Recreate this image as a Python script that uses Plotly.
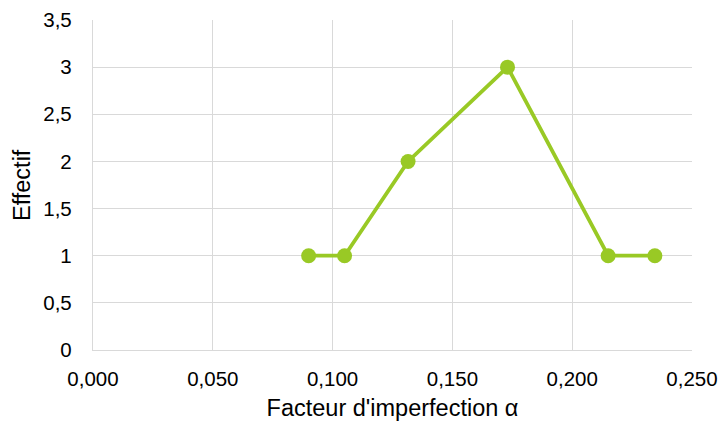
import plotly.graph_objects as go

# Facteur d'imperfection α et effectif correspondant
alpha = [0.090, 0.105, 0.1315, 0.173, 0.215, 0.2345]
effectif = [1, 1, 2, 3, 1, 1]

x_ticks = [0.0, 0.05, 0.10, 0.15, 0.20, 0.25]
y_ticks = [0, 0.5, 1, 1.5, 2, 2.5, 3, 3.5]

green = "#99C925"
grid = "#D9D9D9"
font = "Liberation Sans, Arial, sans-serif"

fig = go.Figure(
    go.Scatter(
        x=alpha,
        y=effectif,
        mode="lines+markers",
        line=dict(color=green, width=3.8),
        marker=dict(color=green, size=15),
        showlegend=False,
    )
)

fig.update_layout(
    width=721,
    height=423,
    margin=dict(l=93, r=29, t=20, b=73),
    paper_bgcolor="white",
    plot_bgcolor="white",
    separators=", ",
    font=dict(family=font, size=20.5, color="#000000"),
    xaxis=dict(
        range=[0, 0.25],
        tickvals=x_ticks,
        tickformat=".3f",
        automargin=False,
        showgrid=True,
        gridcolor=grid,
        gridwidth=1.3,
        zeroline=False,
        showline=True,
        linecolor=grid,
        linewidth=1.3,
        ticks="",
        ticklabelstandoff=10,
        title=dict(text="Facteur d'imperfection α", font=dict(size=23.5), standoff=10),
    ),
    yaxis=dict(
        range=[0, 3.5],
        tickvals=y_ticks,
        automargin=False,
        showgrid=True,
        gridcolor=grid,
        gridwidth=1.3,
        zeroline=False,
        showline=True,
        linecolor=grid,
        linewidth=1.3,
        ticks="",
        ticklabelstandoff=16,
    ),
    annotations=[
        dict(
            text="Effectif",
            textangle=-90,
            xref="paper",
            yref="paper",
            x=-0.1185,
            y=0.5,
            xanchor="center",
            yanchor="middle",
            showarrow=False,
            font=dict(size=23.5),
        )
    ],
)

fig.write_html("out.html")
